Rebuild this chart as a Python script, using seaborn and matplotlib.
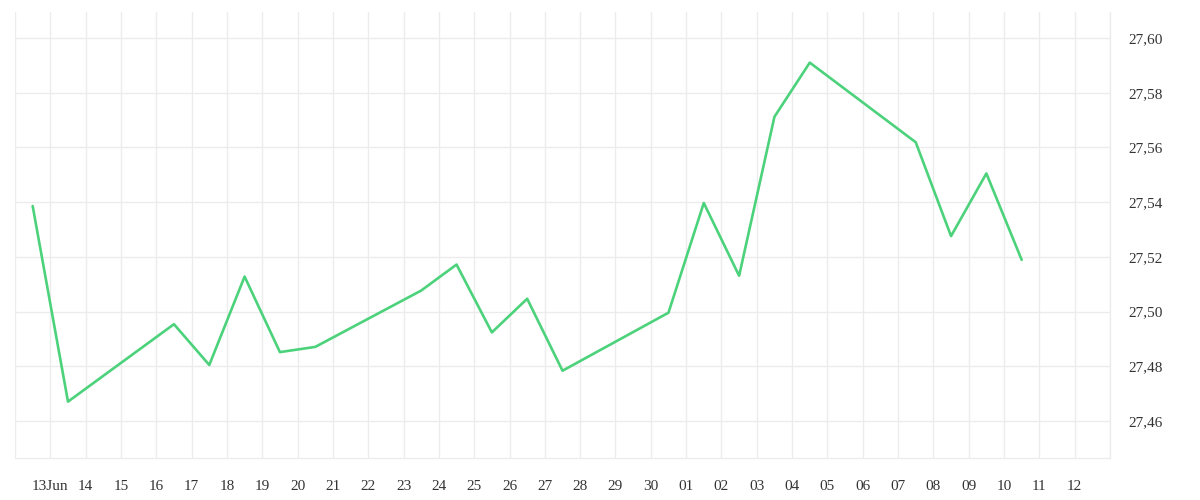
import pandas as pd
import numpy as np
import matplotlib
matplotlib.use('Agg')
import matplotlib.pyplot as plt
import seaborn as sns

# daily values, points sit at midday
dates = ['2014-06-12 12:00', '2014-06-13 12:00', '2014-06-16 12:00', '2014-06-17 12:00',
         '2014-06-18 12:00', '2014-06-19 12:00', '2014-06-20 12:00', '2014-06-23 12:00',
         '2014-06-24 12:00', '2014-06-25 12:00', '2014-06-26 12:00', '2014-06-27 12:00',
         '2014-06-30 12:00', '2014-07-01 12:00', '2014-07-02 12:00', '2014-07-03 12:00',
         '2014-07-04 12:00', '2014-07-07 12:00', '2014-07-08 12:00', '2014-07-09 12:00',
         '2014-07-10 12:00']
values = [27.5386, 27.4671, 27.4954, 27.4805, 27.5128, 27.4852, 27.4871, 27.5077,
          27.5172, 27.4924, 27.5047, 27.4784, 27.4996, 27.5397, 27.5131, 27.5712,
          27.5910, 27.5619, 27.5276, 27.5505, 27.5189]

tick_dates = ['2014-06-12', '2014-06-13', '2014-06-14', '2014-06-15', '2014-06-16', '2014-06-17',
              '2014-06-18', '2014-06-19', '2014-06-20', '2014-06-21', '2014-06-22', '2014-06-23',
              '2014-06-24', '2014-06-25', '2014-06-26', '2014-06-27', '2014-06-28', '2014-06-29',
              '2014-06-30', '2014-07-01', '2014-07-02', '2014-07-03', '2014-07-04', '2014-07-05',
              '2014-07-06', '2014-07-07', '2014-07-08', '2014-07-09', '2014-07-10', '2014-07-11',
              '2014-07-12', '2014-07-13']
tick_labels = ['', '13Jun', '14', '15', '16', '17', '18', '19', '20', '21', '22', '23', '24',
               '25', '26', '27', '28', '29', '30', '01', '02', '03', '04', '05', '06', '07',
               '08', '09', '10', '11', '12', '']
y_ticks = [27.46, 27.48, 27.50, 27.52, 27.54, 27.56, 27.58, 27.60]
y_labels = ['27,46', '27,48', '27,50', '27,52', '27,54', '27,56', '27,58', '27,60']

df = pd.DataFrame({'date': pd.to_datetime(dates), 'value': values})
ticks = pd.to_datetime(tick_dates)

sns.set_style('white')
plt.rcParams['font.family'] = ['Liberation Serif', 'DejaVu Serif']

fig = plt.figure(figsize=(12, 5), dpi=100)
ax = fig.add_axes([0.0125, 0.084, 0.9125, 0.892])

sns.lineplot(data=df, x='date', y='value', ax=ax, color='#4cd27b', linewidth=1.9)

grid_col = '#ececec'
ax.set_xlim(ticks[0], ticks[-1])
ax.set_xticks(ticks)
ax.set_xticklabels(tick_labels)
ax.set_ylim(27.4465, 27.6095)
ax.set_yticks(y_ticks)
ax.set_yticklabels(y_labels)
ax.yaxis.tick_right()

ax.grid(True, color=grid_col, linewidth=1)
ax.tick_params(axis='x', length=7.5, width=1, color=grid_col, pad=8,
               labelsize=11, labelcolor='#333333')
ax.tick_params(axis='y', length=0, pad=13, labelsize=11, labelcolor='#333333')

for side in ['top', 'left']:
    ax.spines[side].set_visible(False)
for side in ['bottom', 'right']:
    ax.spines[side].set_color(grid_col)
    ax.spines[side].set_linewidth(1)

ax.set_xlabel('')
ax.set_ylabel('')

fig.savefig('out.png', dpi=100)
